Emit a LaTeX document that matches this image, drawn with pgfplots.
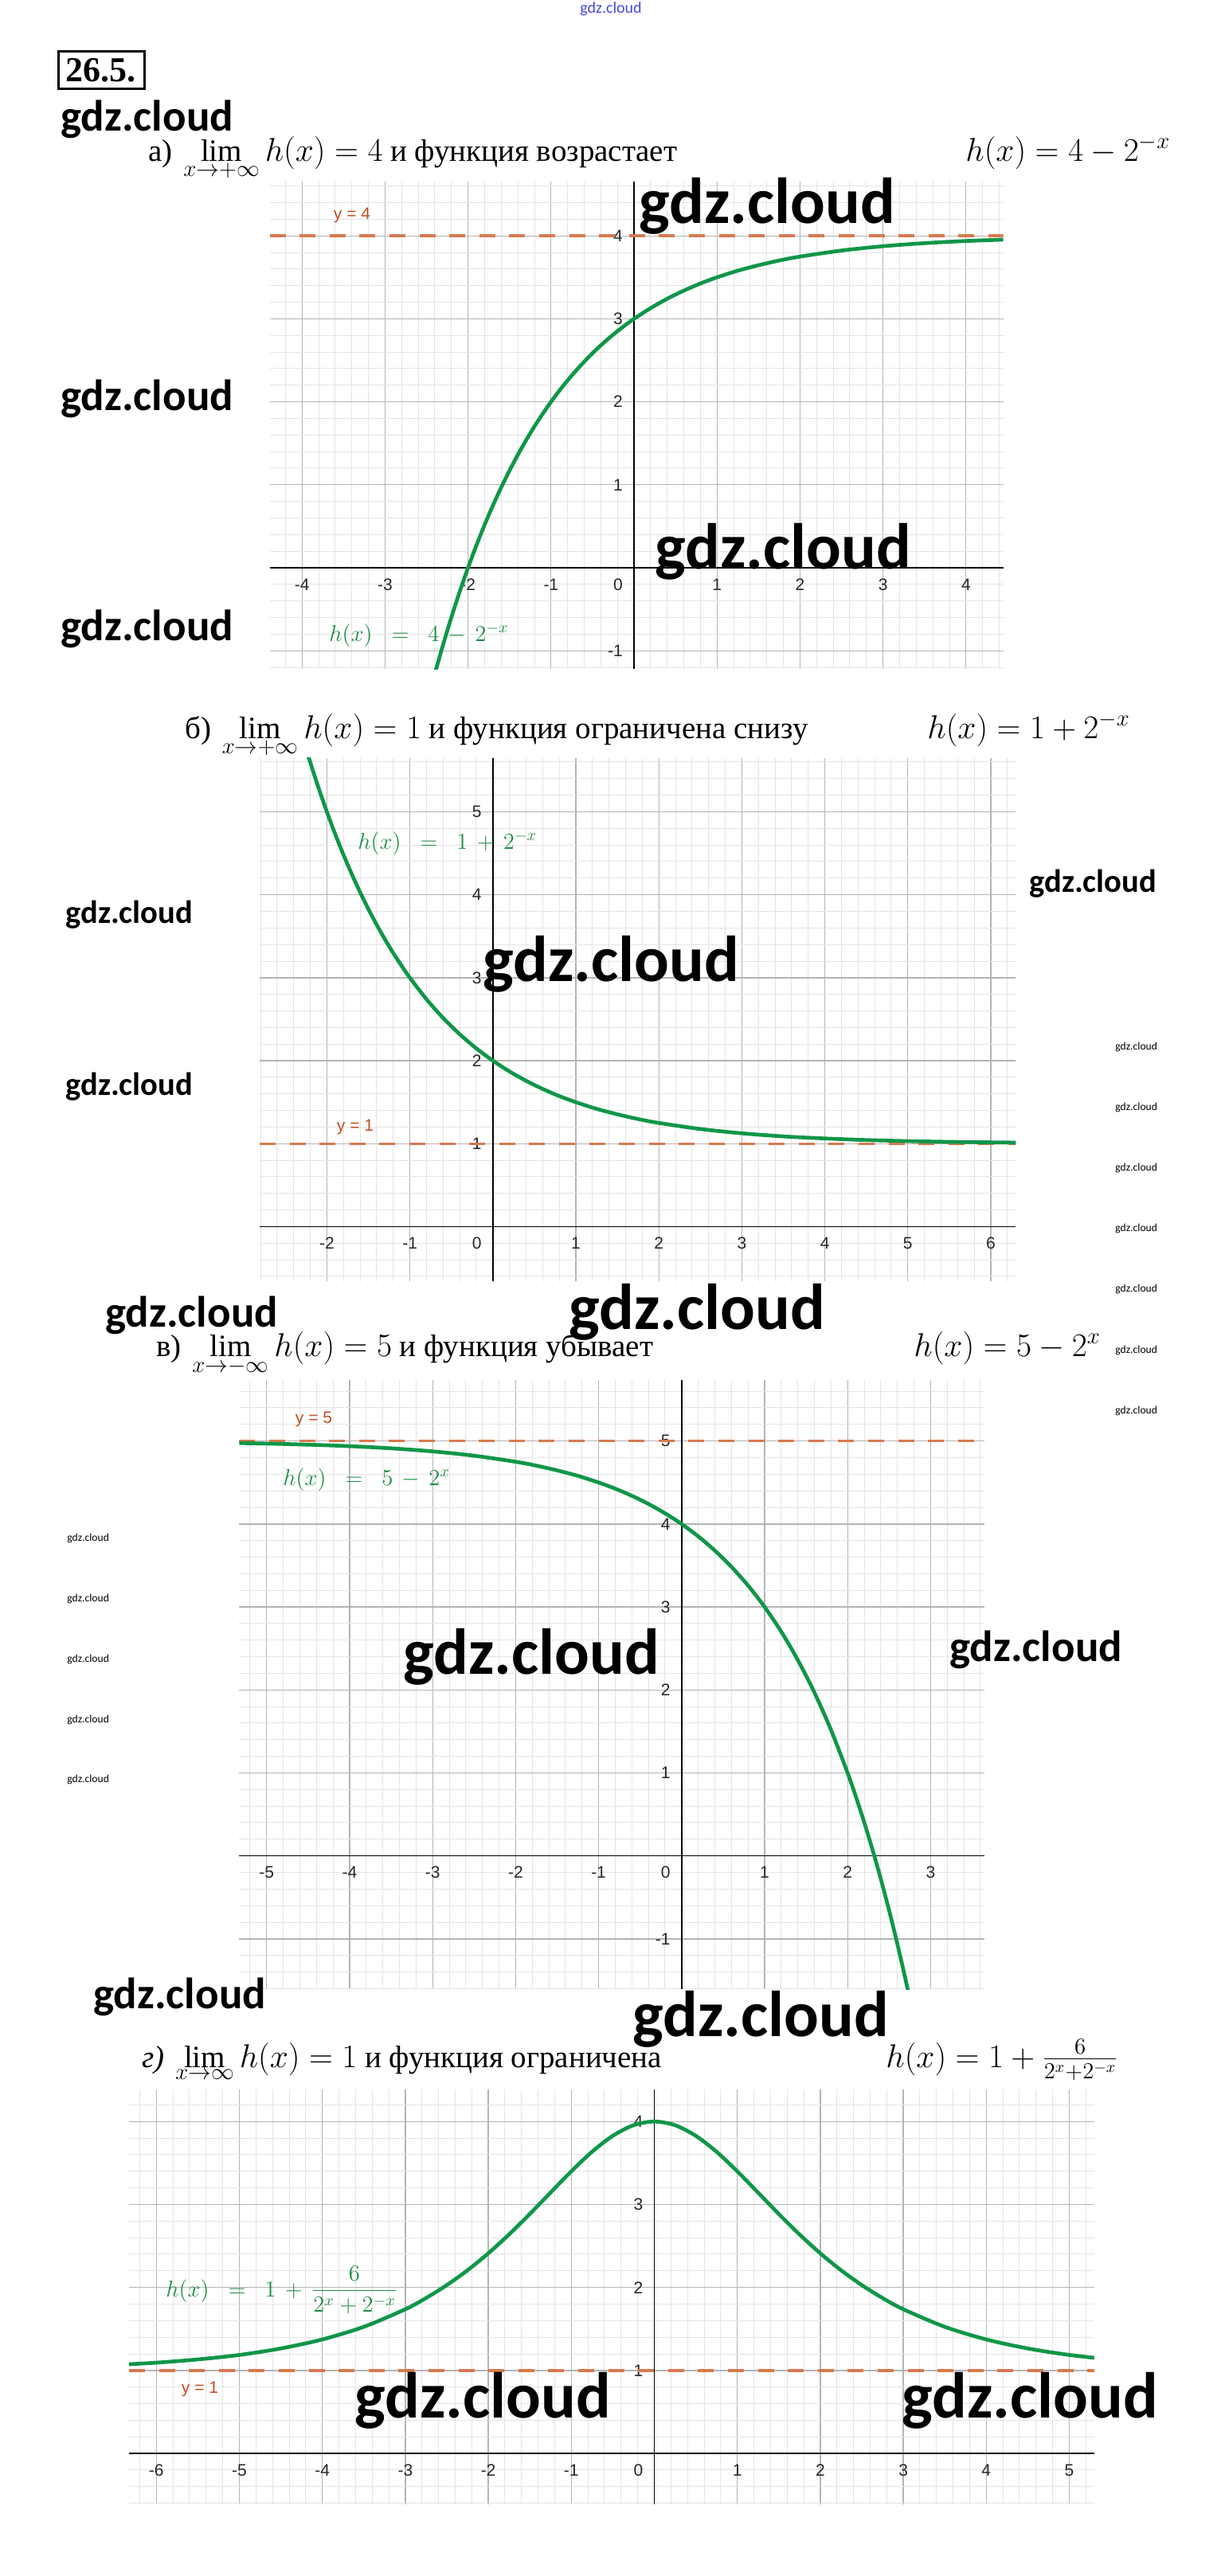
\documentclass[border=0pt]{standalone}
\usepackage{fontspec}
\setmainfont{Liberation Serif}
\newfontfamily\ggbfont{Liberation Sans}
\newfontfamily\wmfont{Carlito}
\usepackage{pgfplots}
\pgfplotsset{compat=1.18}
\definecolor{ggbgreen}{RGB}{16,150,72}
\definecolor{labgreen}{RGB}{30,140,70}
\definecolor{dashcol}{RGB}{214,122,80}
\definecolor{ycol}{RGB}{190,80,35}
\definecolor{majgrid}{RGB}{180,180,180}
\definecolor{mingrid}{RGB}{228,228,228}
\definecolor{wmblue}{RGB}{70,70,220}
\pgfplotsset{ggb/.style={
  x=52.1pt, y=52.1pt,
  anchor=south west,
  axis lines=middle,
  axis line style={black, line width=0.75pt, -},
  grid=both,
  major grid style={draw=majgrid, line width=0.65pt},
  minor grid style={draw=mingrid, line width=0.5pt},
  minor xtick={-7,-6.8,...,7},
  minor ytick={-2,-1.8,...,7},
  major tick length=0pt, minor tick length=0pt,
  tick label style={font=\ggbfont\fontsize{10.5}{12}\selectfont, text=black!85},
  xticklabel style={yshift=-3.25pt},
  yticklabel style={xshift=-3.6pt},
  clip=true,
},
dashline/.style={draw=dashcol, line width=1.7pt, dash pattern=on 10pt off 8.8pt, no marks},
curve/.style={draw=ggbgreen, line width=2.35pt, smooth, no marks},
}
\tikzset{zero/.style={font=\ggbfont\fontsize{10.5}{12}\selectfont, text=black!85, xshift=-10pt, yshift=-10.5pt, inner sep=0pt}}
\begin{document}
\begin{tikzpicture}
\path[use as bounding box] (0pt,0pt) rectangle (766pt,-1617.5pt);

% ---------- graph a ----------
\begin{axis}[ggb, at={(169.3pt,-420.05pt)},
  xmin=-4.39, xmax=4.45, ymin=-1.22, ymax=4.65,
  xtick={-4,...,4}, xticklabels={-4,-3,-2,-1,,1,2,3,4},
  ytick={-1,...,4}, yticklabels={-1,,1,2,3,4}]
\addplot[dashline] coordinates {(-4.39,4) (4.45,4)};
\addplot[curve] coordinates {(-2.4,-1.278) (-2.3,-0.925) (-2.2,-0.595) (-2.1,-0.287) (-2,0) (-1.9,0.268) (-1.8,0.518) (-1.7,0.751) (-1.6,0.969) (-1.5,1.172) (-1.4,1.361) (-1.3,1.538) (-1.2,1.703) (-1.1,1.856) (-1,2) (-0.9,2.134) (-0.8,2.259) (-0.7,2.375) (-0.6,2.484) (-0.5,2.586) (-0.4,2.680) (-0.3,2.769) (-0.2,2.851) (-0.1,2.928) (0,3) (0.2,3.129) (0.4,3.242) (0.6,3.340) (0.8,3.426) (1,3.5) (1.25,3.580) (1.5,3.646) (1.75,3.703) (2,3.75) (2.5,3.823) (3,3.875) (3.5,3.912) (4,3.938) (4.5,3.956)};
\node[zero] at (axis cs:0,0) {0};
\end{axis}

% ---------- graph b ----------
\begin{axis}[ggb, at={(163pt,-804.35pt)},
  xmin=-2.81, xmax=6.30, ymin=-0.655, ymax=5.65,
  xtick={-2,...,6}, xticklabels={-2,-1,,1,2,3,4,5,6},
  ytick={0,...,5}, yticklabels={,1,2,3,4,5}]
\addplot[dashline] coordinates {(-2.81,1) (6.30,1)};
\addplot[curve] coordinates {(-2.3,5.925) (-2.2,5.595) (-2.1,5.287) (-2,5) (-1.9,4.732) (-1.8,4.482) (-1.7,4.249) (-1.6,4.031) (-1.5,3.828) (-1.4,3.639) (-1.3,3.462) (-1.2,3.297) (-1.1,3.144) (-1,3) (-0.8,2.741) (-0.6,2.516) (-0.4,2.320) (-0.2,2.149) (0,2) (0.2,1.871) (0.4,1.758) (0.6,1.660) (0.8,1.574) (1,1.5) (1.25,1.420) (1.5,1.354) (1.75,1.297) (2,1.25) (2.5,1.177) (3,1.125) (3.5,1.088) (4,1.063) (4.5,1.044) (5,1.031) (5.5,1.022) (6,1.016) (6.5,1.011)};
\node[zero] at (axis cs:0,0) {0};
\end{axis}

% ---------- graph c ----------
\begin{axis}[ggb, at={(150.2pt,-1249.2pt)},
  xmin=-5.33, xmax=3.65, ymin=-1.61, ymax=5.74,
  xtick={-5,...,3}, xticklabels={-5,-4,-3,-2,-1,,1,2,3},
  ytick={-1,...,5}, yticklabels={-1,,1,2,3,4,5}]
\addplot[dashline] coordinates {(-5.33,5) (3.65,5)};
\addplot[curve] coordinates {(-5.5,4.978) (-5,4.969) (-4.5,4.956) (-4,4.938) (-3.5,4.912) (-3,4.875) (-2.5,4.823) (-2,4.75) (-1.75,4.703) (-1.5,4.646) (-1.25,4.580) (-1,4.5) (-0.8,4.426) (-0.6,4.340) (-0.4,4.242) (-0.2,4.129) (0,4) (0.2,3.851) (0.4,3.680) (0.6,3.484) (0.8,3.259) (1,3) (1.2,2.703) (1.4,2.361) (1.6,1.969) (1.8,1.518) (2,1) (2.1,0.713) (2.2,0.405) (2.3,0.075) (2.4,-0.278) (2.5,-0.657) (2.6,-1.063) (2.7,-1.498) (2.8,-1.964)};
\node[zero] at (axis cs:0,0) {0};
\end{axis}

% ---------- graph d ----------
\begin{axis}[ggb, at={(80.95pt,-1572.3pt)},
  xmin=-6.33, xmax=5.30, ymin=-0.61, ymax=4.39,
  xtick={-6,...,5}, xticklabels={-6,-5,-4,-3,-2,-1,,1,2,3,4,5},
  ytick={0,...,4}, yticklabels={,1,2,3,4}]
\addplot[dashline] coordinates {(-6.33,1) (5.30,1)};
\addplot[curve] coordinates {(-6.5,1.066) (-6,1.094) (-5.5,1.133) (-5,1.187) (-4.5,1.265) (-4,1.374) (-3.5,1.526) (-3,1.738) (-2.75,1.873) (-2.5,2.029) (-2.25,2.208) (-2,2.412) (-1.75,2.639) (-1.5,2.886) (-1.25,3.144) (-1,3.4) (-0.75,3.636) (-0.5,3.828) (-0.25,3.956) (0,4) (0.25,3.956) (0.5,3.828) (0.75,3.636) (1,3.4) (1.25,3.144) (1.5,2.886) (1.75,2.639) (2,2.412) (2.25,2.208) (2.5,2.029) (2.75,1.873) (3,1.738) (3.5,1.526) (4,1.374) (4.5,1.265) (5,1.187) (5.5,1.133) (6,1.094)};
\node[zero] at (axis cs:0,0) {0};
\end{axis}

\begin{scope}[x=0.5pt, y=-0.5pt, every node/.style={inner sep=0pt}]
% number box
\draw[line width=1.5pt] (73,64) rectangle (181,111);
\node[font=\bfseries\fontsize{22}{24}\selectfont] at (127,88) {26.5.};

% headings
\def\hd{\fontsize{19.5}{24}\selectfont}
\def\hr{\fontsize{20}{24}\selectfont}
\node[anchor=base west, font=\hd] at (186,202) {а)\hspace{0.35em}$\lim\limits_{x\to+\infty} h(x) = 4$ и функция возрастает};
\node[anchor=base west, font=\hr] at (1212,202) {$h(x) = 4 - 2^{-x}$};
\node[anchor=base west, font=\hd] at (232,927) {б)\hspace{0.35em}$\lim\limits_{x\to+\infty} h(x) = 1$ и функция ограничена снизу};
\node[anchor=base west, font=\hr] at (1164,927) {$h(x) = 1 + 2^{-x}$};
\node[anchor=base west, font=\hd] at (196,1703) {в)\hspace{0.35em}$\lim\limits_{x\to-\infty} h(x) = 5$ и функция убывает};
\node[anchor=base west, font=\hr] at (1147,1703) {$h(x) = 5 - 2^{x}$};
\node[anchor=base west, font=\hd] at (178,2596) {\textit{г)}\hspace{0.35em}$\lim\limits_{x\to\infty} h(x) = 1$ и функция ограничена};
\node[anchor=base west, font=\hr] at (1112,2596) {$h(x) = 1 + \frac{6}{2^{x}+2^{-x}}$};

% y = c labels
\def\yl{\ggbfont\fontsize{10.5}{12}\selectfont}
\node[font=\yl, text=ycol] at (442,270) {y = 4};
\node[font=\yl, text=ycol] at (446,1415) {y = 1};
\node[font=\yl, text=ycol] at (394,1782) {y = 5};
\node[font=\yl, text=ycol] at (251,3000) {y = 1};

% green function labels
\def\gl{\fontsize{14}{16}\selectfont}
\node[anchor=base west, font=\gl, text=labgreen] at (413,805) {$h(x)\;\;=\;\;4\,-\,2^{-x}$};
\node[anchor=base west, font=\gl, text=labgreen] at (449,1066) {$h(x)\;\;=\;\;1\,+\,2^{-x}$};
\node[anchor=base west, font=\gl, text=labgreen] at (355,1865) {$h(x)\;\;=\;\;5\,-\,2^{x}$};
\node[anchor=base west, font=\gl, text=labgreen] at (208,2884) {$h(x)\;\;=\;\;1\,+\,{\displaystyle\frac{6}{2^{x}+2^{-x}}}$};

% watermarks
\def\wl{\wmfont\bfseries\fontsize{40.8}{44}\selectfont}
\def\wm{\wmfont\bfseries\fontsize{27.5}{30}\selectfont}
\def\ws{\wmfont\bfseries\fontsize{20.3}{22}\selectfont}
\def\wt{\wmfont\fontsize{6.8}{8}\selectfont}
\foreach \p in {(802,280),(822,714),(606,1232),(714,1669),(506,2102),(794,2557),(445,3036),(1132,3036)}
  \node[anchor=base west, font=\wl] at \p {gdz.cloud};
\foreach \p in {(76,164),(76,515),(76,804),(132,1666),(117,2522),(1192,2086)}
  \node[anchor=base west, font=\wm] at \p {gdz.cloud};
\foreach \p in {(1292,1120),(82,1159),(82,1375)}
  \node[anchor=base west, font=\ws] at \p {gdz.cloud};
\foreach \yy in {1318,1394,1470,1546,1622,1699,1775}
  \node[anchor=base west, font=\wt] at (1400,\yy) {gdz.cloud};
\foreach \yy in {1935,2011,2087,2163,2238}
  \node[anchor=base west, font=\wt] at (84,\yy) {gdz.cloud};
\node[anchor=base west, font=\wmfont\fontsize{10}{12}\selectfont, text=wmblue] at (728,16) {gdz.cloud};
\end{scope}
\end{tikzpicture}
\end{document}
